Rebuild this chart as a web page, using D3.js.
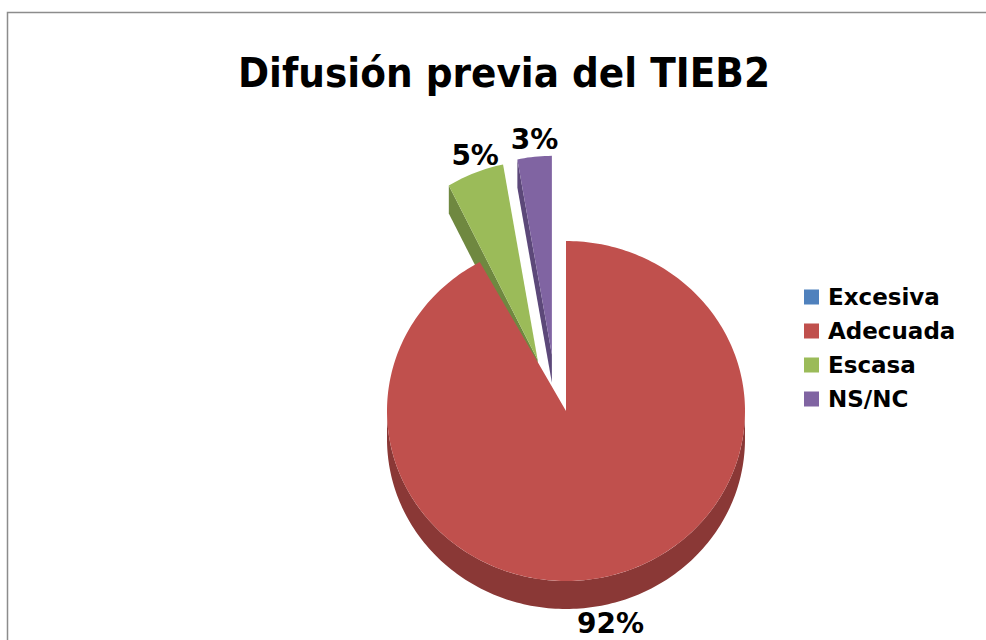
<!DOCTYPE html>
<html>

<head>
  <meta charset="utf-8">
  <title>Difusión previa del TIEB2</title>
  <script type="text/javascript" src="https://cdn.jsdelivr.net/npm/d3@7"></script>
  <style>
    body {
      margin: 0;
      background-color: #ffffff;
    }

    text {
      font-family: "DejaVu Sans", sans-serif;
      font-weight: bold;
      fill: #000000;
    }
  </style>
</head>

<body>
  <script type="text/javascript">

    // Datos del gráfico
    const categorias = ["Excesiva", "Adecuada", "Escasa", "NS/NC"];
    const valores = [0, 92, 5, 3];
    const titulo = "Difusión previa del TIEB2";

    // Estilos por sector
    const colores = ["#4f81bd", "#c0504d", "#9bbb59", "#8064a2"];
    const coloresLado = ["#355a86", "#8a3836", "#6f8840", "#5c4879"];
    const separacion = [0, 0, 0.34, 0.34];

    // Medidas
    const w = 986;
    const h = 640;
    const cx = 566;
    const cy = 411;
    const rx = 179;
    const ry = 170;
    const prof = 28;

    const svg = d3.select("body")
      .append("svg")
      .attr("width", w)
      .attr("height", h);

    // Borde del área del gráfico
    svg.append("rect")
      .attr("x", 7.5)
      .attr("y", 12.5)
      .attr("width", w + 20)
      .attr("height", h + 20)
      .attr("fill", "none")
      .attr("stroke", "#8c8c8c")
      .attr("stroke-width", 1.5);

    // Título
    svg.append("text")
      .attr("x", 504)
      .attr("y", 87)
      .attr("text-anchor", "middle")
      .attr("font-size", "41px")
      .attr("textLength", 532)
      .attr("lengthAdjust", "spacingAndGlyphs")
      .text(titulo);

    const datos = categorias.map(function (c, i) {
      return { categoria: c, valor: valores[i], i: i };
    });
    const total = d3.sum(valores);
    const formato = d3.format(".0%");

    const pie = d3.pie()
      .sort(null)
      .value(function (d) { return d.valor; });

    const sectores = pie(datos).filter(function (d) { return d.data.valor > 0; });

    // Geometría de cada sector (centro desplazado y escala)
    sectores.forEach(function (s) {
      const e = separacion[s.data.i];
      const medio = (s.startAngle + s.endAngle) / 2;
      const b = medio - 8 * Math.PI / 180;
      s.ox = cx + e * rx * Math.sin(b);
      s.oy = cy - e * ry * Math.cos(b);
      s.sx = e > 0 ? 1.03 : 1;
      s.sy = e > 0 ? 1.17 : 1;
      s.medio = medio;
    });

    function punto(s, a, r, z) {
      return [s.ox + rx * s.sx * r * Math.sin(a), s.oy - ry * s.sy * r * Math.cos(a) + z];
    }

    function arco(s, a0, a1, z) {
      const n = Math.max(2, Math.ceil(Math.abs(a1 - a0) / 0.02));
      return d3.range(n + 1).map(function (k) {
        return punto(s, a0 + (a1 - a0) * k / n, 1, z);
      });
    }

    const linea = d3.line();

    // Dibujar primero los sectores de atrás
    const orden = sectores.slice().sort(function (a, b) { return a.oy - b.oy; });

    const g = svg.append("g");

    orden.forEach(function (s) {
      const color = colores[s.data.i];
      const lado = coloresLado[s.data.i];

      // Pared exterior visible (mitad delantera)
      const a0 = Math.max(s.startAngle, Math.PI / 2);
      const a1 = Math.min(s.endAngle, 3 * Math.PI / 2);
      if (a1 > a0) {
        const pts = arco(s, a0, a1, 0).concat(arco(s, a1, a0, prof));
        g.append("path")
          .attr("d", linea(pts) + "Z")
          .attr("fill", lado);
      }

      // Paredes radiales visibles
      [[s.startAngle, Math.sin(s.startAngle) < -0.01], [s.endAngle, Math.sin(s.endAngle) > 0.01]]
        .forEach(function (p) {
          if (!p[1]) return;
          const pts = [
            punto(s, 0, 0, 0),
            punto(s, p[0], 1, 0),
            punto(s, p[0], 1, prof),
            punto(s, 0, 0, prof)
          ];
          g.append("path")
            .attr("d", linea(pts) + "Z")
            .attr("fill", lado);
        });

      // Cara superior
      const sup = [punto(s, 0, 0, 0)].concat(arco(s, s.startAngle, s.endAngle, 0));
      g.append("path")
        .attr("d", linea(sup) + "Z")
        .attr("fill", color);
    });

    // Etiquetas de porcentaje
    svg.selectAll("text.etiqueta")
      .data(sectores)
      .enter()
      .append("text")
      .attr("class", "etiqueta")
      .attr("text-anchor", "middle")
      .attr("font-size", "28px")
      .attr("x", function (d) { return punto(d, d.medio, 1, 0)[0]; })
      .attr("y", function (d) {
        const p = punto(d, d.medio, 1, 0);
        return Math.cos(d.medio) > 0 ? p[1] - 8 : p[1] + prof + 29;
      })
      .text(function (d) { return formato(d.data.valor / total); });

    // Leyenda
    const leyenda = svg.selectAll("g.leyenda")
      .data(datos)
      .enter()
      .append("g")
      .attr("class", "leyenda")
      .attr("transform", function (d, i) {
        return "translate(804," + (297 + i * 34) + ")";
      });

    leyenda.append("rect")
      .attr("x", 0)
      .attr("y", -7.5)
      .attr("width", 15)
      .attr("height", 15)
      .attr("fill", function (d) { return colores[d.i]; });

    leyenda.append("text")
      .attr("x", 24)
      .attr("y", 8)
      .attr("font-size", "23px")
      .text(function (d) { return d.categoria; });

  </script>
</body>

</html>
